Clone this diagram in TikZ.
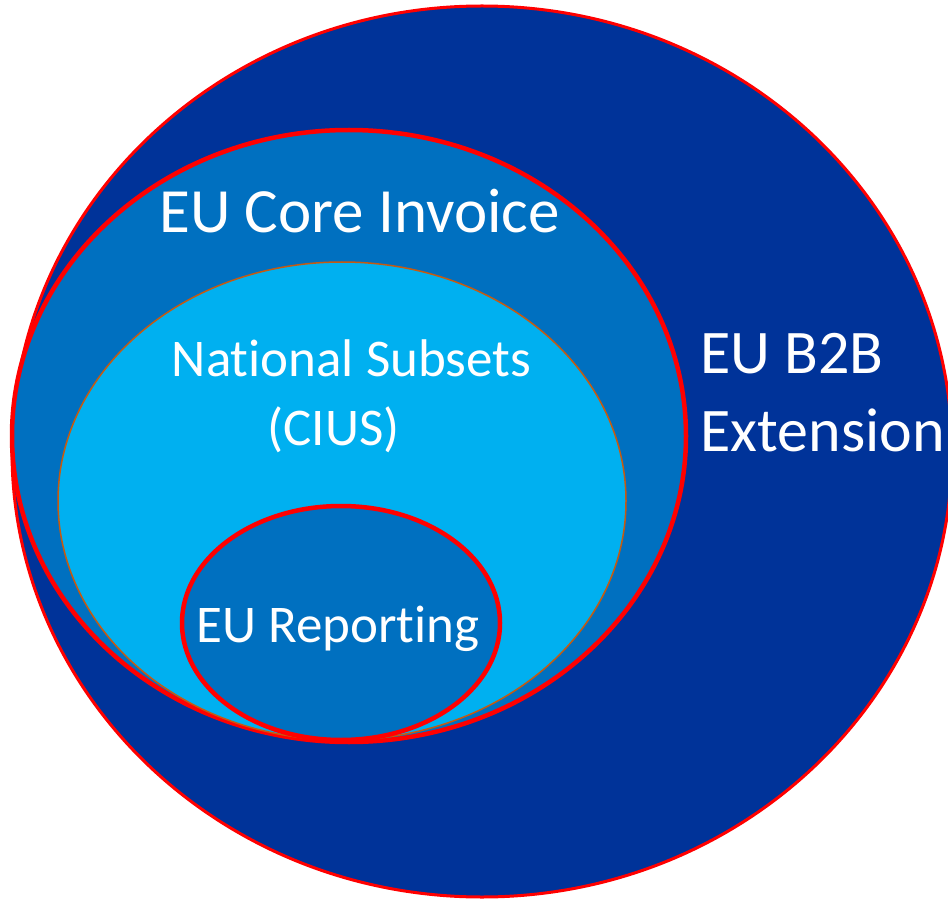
\documentclass[tikz,border=0pt]{standalone}
\usepackage{fontspec}
\setmainfont{Carlito}[Ligatures=NoCommon]
\definecolor{outerblue}{RGB}{0,51,153}
\definecolor{coreblue}{RGB}{0,112,192}
\definecolor{natblue}{RGB}{0,176,240}
\definecolor{ringred}{RGB}{255,0,0}
\definecolor{natline}{RGB}{197,90,17}
\tikzset{
  ring/.style={draw=ringred, line width=4.5},
  lbl/.style={text=white, inner sep=0, anchor=base},
}
\begin{document}
\begin{tikzpicture}[x=1pt,y=1pt,yscale=-1,xscale=1]
        \useasboundingbox (0,0) rectangle (948,901);
        %Shape: Ellipse [id:outer]
        \draw [ring, line width=3, fill=outerblue] (482,451.5) ellipse (470 and 445.5);
        %Shape: Ellipse [id:core]
        \draw [ring, fill=coreblue] (349,436) ellipse (337 and 306);
        %Shape: Ellipse [id:national]
        \draw [draw=natline, line width=1.5, fill=natblue] (342,501) ellipse (284 and 239);
        %Shape: Ellipse [id:reporting]
        \draw [ring, fill=coreblue] (341,623) ellipse (159 and 117);

        % Text Node
        \draw (359.5,233) node (coretxt) [lbl, font=\fontsize{63}{63}\selectfont] {EU Core Invoice};
        % Text Node
        \draw (351.5,377) node (nattxt) [lbl, font=\fontsize{53}{53}\selectfont] {National Subsets};
        % Text Node
        \draw (333.5,445) node (ciustxt) [lbl, font=\fontsize{53}{53}\selectfont] {(CIUS)};
        % Text Node
        \draw (700,451) node (b2btxt) [lbl, anchor=base west, align=left, font=\fontsize{62}{78}\selectfont] {EU B2B\\Extension};
        % Text Node
        \draw (338,642) node (reptxt) [lbl, font=\fontsize{53}{53}\selectfont] {EU Reporting};
\end{tikzpicture}
\end{document}
